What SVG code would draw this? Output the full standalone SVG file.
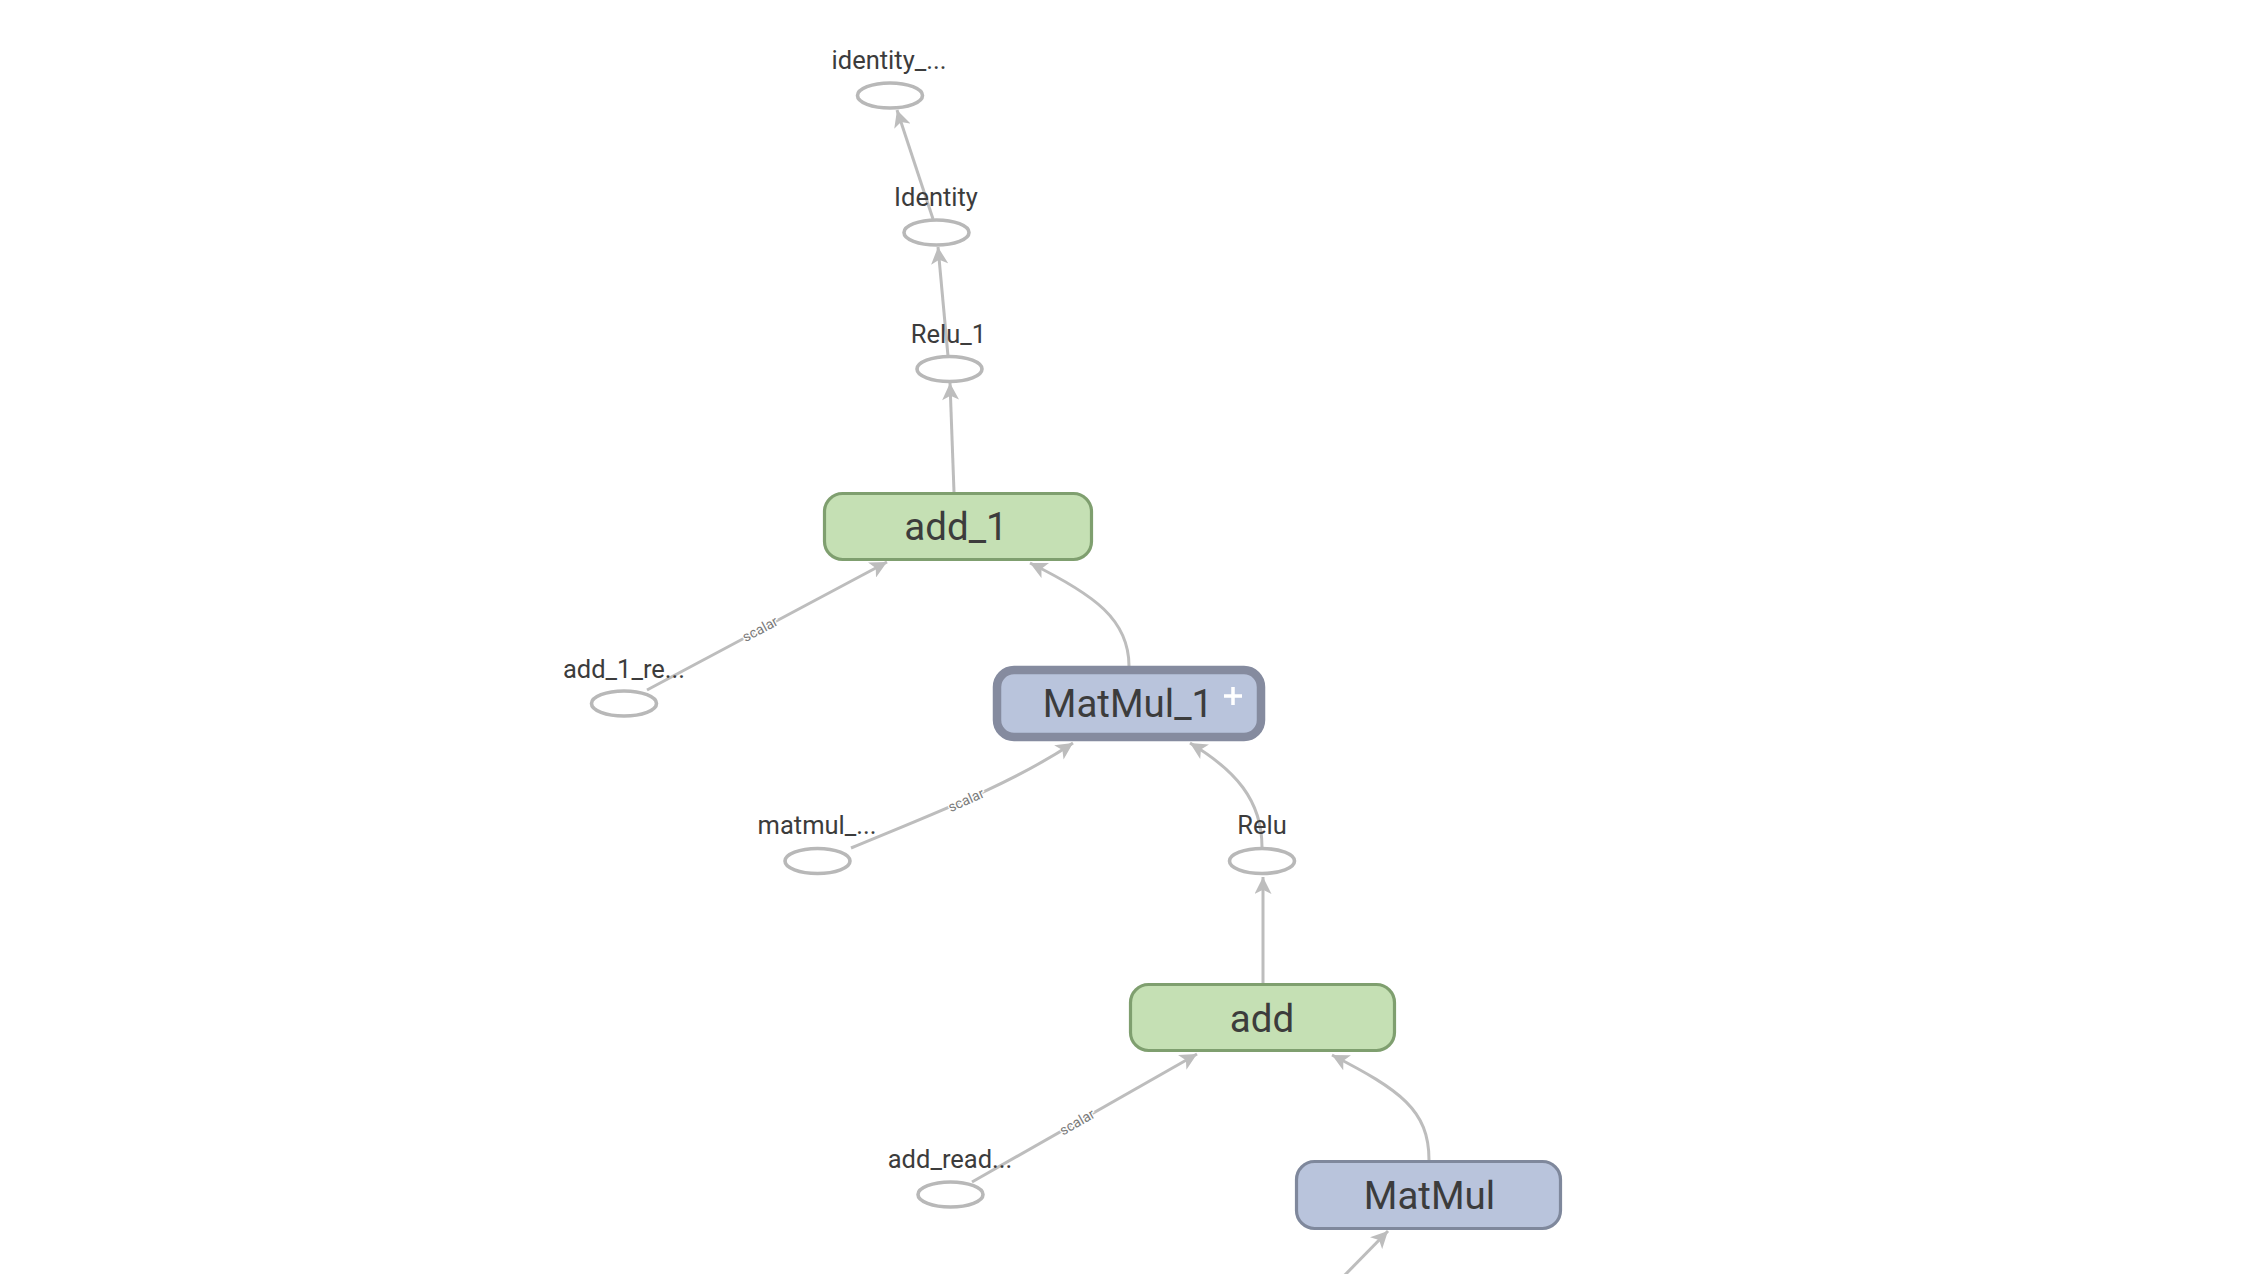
<svg xmlns="http://www.w3.org/2000/svg" width="2264" height="1274" viewBox="0 0 2264 1274">
<defs>
<style>
.edge{fill:none;stroke:#bdbdbd;stroke-width:3;marker-end:url(#arr)}
.const{fill:#fff;stroke:#b8b8b8;stroke-width:3.6}
.lbl{font-family:Roboto,"Liberation Sans",sans-serif;font-size:25.5px;fill:#3c3c3c;text-anchor:middle}
.big{font-family:Roboto,"Liberation Sans",sans-serif;font-size:38.5px;fill:#3c3c3c;text-anchor:middle}
.scal{font-family:Roboto,"Liberation Sans",sans-serif;font-size:14px;fill:#7a7a7a;text-anchor:middle;stroke:#fff;stroke-width:2.5;paint-order:stroke}
.green{fill:#c5e0b4;stroke:#7f9f6f;stroke-width:3.2}
.blue{fill:#b9c4dc;stroke:#7f889c;stroke-width:3.2}
.blueX{fill:#b9c4dc;stroke:#858b9f;stroke-width:8.5}
</style>
<marker id="arr" viewBox="0 0 10 10" refX="10" refY="5" markerUnits="userSpaceOnUse" markerWidth="18" markerHeight="17" orient="auto">
<path d="M0,0 L10,5 L0,10 L2.5,5 z" fill="#bdbdbd"/>
</marker>
</defs>
<rect x="0" y="0" width="2264" height="1274" fill="#fff"/>
<g id="connectors">
<path class="edge" d="M933,219 L897,110"/>
<path class="edge" d="M948,356 L938,247"/>
<path class="edge" d="M954,492 L950,383"/>
<path class="edge" d="M647,690 L887,562"/>
<path class="edge" d="M1129,666 C1129,620 1095,595 1030,563"/>
<path class="edge" d="M851,848 C930,815 1010,785 1073,743"/>
<path class="edge" d="M1262,847 C1262,800 1235,770 1190,743"/>
<path class="edge" d="M1263,983 L1263,877"/>
<path class="edge" d="M972,1182 L1197,1054"/>
<path class="edge" d="M1429,1160 C1429,1110 1400,1090 1332,1055"/>
<path class="edge" d="M1340,1280 L1388,1231"/>
<text class="scal" transform="translate(760,629) rotate(-28)" dy="0.35em">scalar</text>
<text class="scal" transform="translate(966,800) rotate(-24)" dy="0.35em">scalar</text>
<text class="scal" transform="translate(1077,1122) rotate(-29.6)" dy="0.35em">scalar</text>
</g>
<g id="identity_out">
<ellipse class="const" cx="890" cy="95.5" rx="32.5" ry="12.5"/>
<text class="lbl" x="889" y="69">identity_...</text>
</g>
<g id="Identity">
<ellipse class="const" cx="936.5" cy="232.5" rx="32.5" ry="12.5"/>
<text class="lbl" x="936" y="206">Identity</text>
</g>
<g id="Relu_1">
<ellipse class="const" cx="949.5" cy="369" rx="32.5" ry="12.5"/>
<text class="lbl" x="948.5" y="343">Relu_1</text>
</g>
<g id="add_1">
<rect class="green" x="824.5" y="493.5" width="267" height="66" rx="18"/>
<text class="big" x="956" y="540">add_1</text>
</g>
<g id="add_1_read">
<ellipse class="const" cx="624" cy="703.5" rx="32.5" ry="12.5"/>
<text class="lbl" x="624" y="678">add_1_re...</text>
</g>
<g id="MatMul_1">
<rect class="blueX" x="997" y="670" width="264" height="67" rx="17"/>
<text class="big" x="1128" y="717">MatMul_1</text>
<path d="M1224,696 H1242 M1233,687 V705" stroke="#fff" stroke-width="3.5" fill="none"/>
</g>
<g id="matmul_read">
<ellipse class="const" cx="817.5" cy="861" rx="32.5" ry="12.5"/>
<text class="lbl" x="817" y="834">matmul_...</text>
</g>
<g id="Relu">
<ellipse class="const" cx="1262" cy="861" rx="32.5" ry="12.5"/>
<text class="lbl" x="1262" y="834">Relu</text>
</g>
<g id="add">
<rect class="green" x="1130.5" y="984.5" width="264" height="66" rx="18"/>
<text class="big" x="1262" y="1032">add</text>
</g>
<g id="add_read">
<ellipse class="const" cx="950.5" cy="1194.5" rx="32.5" ry="12.5"/>
<text class="lbl" x="950" y="1168">add_read...</text>
</g>
<g id="MatMul">
<rect class="blue" x="1296.5" y="1161.5" width="264" height="67" rx="18"/>
<text class="big" x="1429.5" y="1209">MatMul</text>
</g>
</svg>
